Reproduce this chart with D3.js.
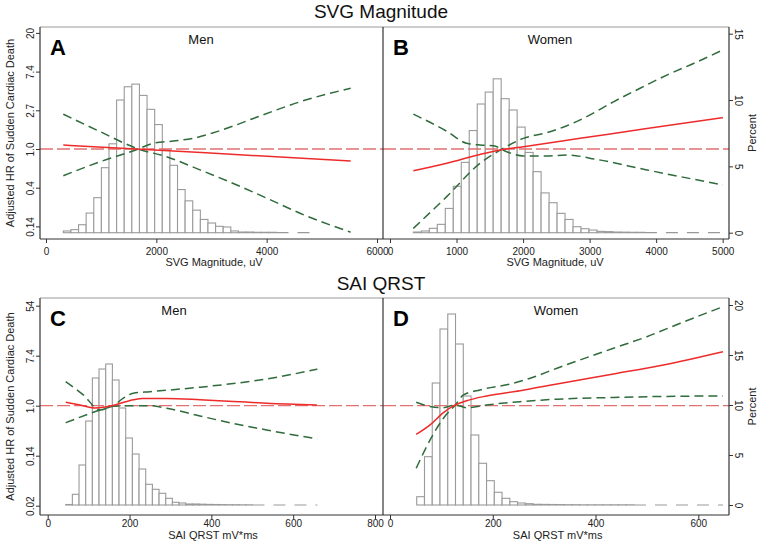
<!DOCTYPE html>
<html>
<head>
<meta charset="utf-8">
<script src="https://cdn.jsdelivr.net/npm/d3@7"></script>
<style>
  body { margin: 0; background: #fff; }
  text { font-family: "Liberation Sans", Arial, Helvetica, sans-serif; }
</style>
</head>
<body>
<div id="chart"></div>
<script>
// Data ----------------------------------------------------------------------------------------------------------------
// histogram bins: first bin start, bin width, percent per bin
const svgMenBinStart = 314, svgMenBinWidth = 138, svgMenTailEnd = 4850;
const svgMenPct = [0.13, 0.23, 0.6, 1.48, 2.64, 4.9, 6.7, 10.0, 11.0, 11.2, 10.35, 9.3, 8.15, 6.26, 5.08, 3.25, 2.4,
  1.7, 1.0, 0.73, 0.48, 0.43, 0.13, 0.05, 0.05, 0.03, 0.03, 0.03];
const svgWomenBinStart = 351, svgWomenBinWidth = 120, svgWomenTailEnd = 5003;
const svgWomenPct = [0.05, 0.13, 0.33, 0.63, 1.83, 3.5, 5.3, 7.7, 9.7, 10.6, 11.6, 10.1, 9.25, 7.96, 6.05, 4.6, 3.0,
  2.26, 1.46, 1.0, 0.45, 0.3, 0.2, 0.1, 0.08, 0.05, 0.04, 0.03, 0.03];
const saiMenBinStart = 44, saiMenBinWidth = 16.3, saiMenTailEnd = 659;
const saiMenPct = [0.05, 1.07, 4.0, 8.4, 12.7, 13.6, 14.1, 12.5, 9.7, 6.7, 5.1, 3.6, 2.07, 1.57, 1.17, 0.67, 0.27, 0.2,
  0.1, 0.1, 0.08, 0.06, 0.05, 0.04, 0.03, 0.03, 0.02, 0.02];
const saiWomenBinStart = 52, saiWomenBinWidth = 15.1, saiWomenTailEnd = 648;
const saiWomenPct = [0.83, 4.83, 12.2, 17.6, 19.1, 16.1, 10.9, 7.0, 4.17, 2.43, 1.27, 0.67, 0.33, 0.2, 0.13, 0.07,
  0.06, 0.05, 0.04, 0.03, 0.03, 0.02, 0.02, 0.02, 0.02, 0.02, 0.02, 0.02];

// spline curves, values are ln(HR)
const svgMenHrX = [314, 2900, 5523];
const svgMenHr = [0.103, -0.10, -0.31];
const svgMenUpX = [314, 979, 1673, 1946, 2308, 2670, 3033, 3395, 3758, 4181, 4604, 5523];
const svgMenUp = [-0.69, -0.33, 0, 0.147, 0.207, 0.276, 0.42, 0.594, 0.79, 1.01, 1.22, 1.57];
const svgMenLoX = [314, 979, 1673, 2187, 2791, 3395, 4000, 4604, 5523];
const svgMenLo = [0.90, 0.45, 0, -0.2, -0.54, -0.89, -1.27, -1.66, -2.15];

const svgWomenHrX = [351, 852, 1353, 1654, 2005, 2857, 3860, 5003];
const svgWomenHr = [-0.56, -0.37, -0.14, -0.026, 0.06, 0.275, 0.53, 0.81];
const svgWomenUpX = [351, 852, 1353, 1654, 2005, 2356, 2657, 2957, 3358, 3759, 4160, 4561, 5003];
const svgWomenUp = [-2.05, -1.23, -0.37, -0.03, 0.275, 0.42, 0.6, 0.835, 1.22, 1.57, 1.91, 2.21, 2.56];
const svgWomenLoX = [351, 852, 1153, 1353, 1554, 1754, 2005, 2356, 2657, 3108, 3860, 5003];
const svgWomenLo = [0.90, 0.46, 0.147, 0.103, 0.086, -0.07, -0.18, -0.18, -0.155, -0.27, -0.54, -0.93];

const saiMenHrX = [44, 79, 115, 140, 170, 200, 230, 290, 372, 454, 535, 658];
const saiMenHr = [0.136, 0.03, -0.09, -0.05, 0.06, 0.2, 0.29, 0.29, 0.24, 0.17, 0.1, 0.03];
const saiMenUpX = [44, 128, 160, 185, 209, 250, 372, 535, 659];
const saiMenUp = [-0.68, -0.17, 0, 0.3, 0.5, 0.56, 0.74, 1.07, 1.46];
const saiMenLoX = [44, 87, 128, 160, 209, 250, 291, 372, 454, 535, 659];
const saiMenLo = [0.96, 0.43, -0.17, -0.02, 0.0, 0.0, -0.1, -0.41, -0.71, -0.97, -1.33];

const saiWomenHrX = [51, 78, 104, 127, 149, 188, 253, 325, 435, 532, 648];
const saiWomenHr = [-1.15, -0.77, -0.28, 0.03, 0.2, 0.39, 0.6, 0.87, 1.27, 1.63, 2.16];
const saiWomenUpX = [51, 78, 104, 127, 143, 175, 240, 273, 325, 370, 435, 500, 565, 648];
const saiWomenUp = [-2.5, -1.37, -0.5, 0.03, 0.43, 0.63, 0.9, 1.1, 1.5, 1.83, 2.3, 2.76, 3.3, 3.96];
const saiWomenLoX = [51, 78, 104, 127, 149, 188, 253, 325, 435, 532, 648];
const saiWomenLo = [0.136, -0.03, -0.08, 0.03, -0.08, 0.03, 0.16, 0.26, 0.33, 0.37, 0.39];

// tick labels
const svgHrTicks = [-2, -1, 0, 1, 2, 3];
const svgHrLabels = ["0.14", "0.4", "1.0", "2.7", "7.4", "20"];
const saiHrTicks = [-4, -2, 0, 2, 4];
const saiHrLabels = ["0.02", "0.14", "1.0", "7.4", "54"];
const svgPctTicks = [0, 5, 10, 15];
const saiPctTicks = [0, 5, 10, 15, 20];

// Canvas ---------------------------------------------------------------------------------------------------------------
const canvasWidth = 762;
const canvasHeight = 545;
const tickFontSize = 10;
const labelFontSize = 11;

const svg = d3.select("#chart")
  .append("svg")
  .attr("width", canvasWidth)
  .attr("height", canvasHeight);

const rows = [
  {
    title: "SVG Magnitude", titleY: 18, top: 27, bottom: 239, tickBase: 255, labelBase: 266,
    hrScale: d3.scaleLinear().domain([-2, 3]).range([226.4, 32.9]), hrTicks: svgHrTicks, hrLabels: svgHrLabels,
    pctScale: d3.scaleLinear().domain([0, 15]).range([232.7, 33.7]), pctTicks: svgPctTicks
  },
  {
    title: "SAI QRST", titleY: 290, top: 298, bottom: 515, tickBase: 526.5, labelBase: 538.5,
    hrScale: d3.scaleLinear().domain([-4, 4]).range([505.7, 305.7]), hrTicks: saiHrTicks, hrLabels: saiHrLabels,
    pctScale: d3.scaleLinear().domain([0, 20]).range([505, 305]), pctTicks: saiPctTicks
  }
];

const zip = (xs, ys) => xs.map((x, i) => [x, ys[i]]);

const panels = [
  {
    row: 0, letter: "A", sex: "Men", sexX: 201, x0: 40, x1: 383, xLabel: "SVG Magnitude, uV", xLabelX: 214,
    xScale: d3.scaleLinear().domain([0, 6000]).range([46, 377]), xTicks: [0, 2000, 4000, 6000],
    binStart: svgMenBinStart, binWidth: svgMenBinWidth, pct: svgMenPct, tailEnd: svgMenTailEnd,
    hr: zip(svgMenHrX, svgMenHr), up: zip(svgMenUpX, svgMenUp), lo: zip(svgMenLoX, svgMenLo)
  },
  {
    row: 0, letter: "B", sex: "Women", sexX: 550, x0: 383, x1: 729, xLabel: "SVG Magnitude, uV", xLabelX: 555,
    xScale: d3.scaleLinear().domain([0, 5000]).range([390, 722.7]), xTicks: [0, 1000, 2000, 3000, 4000, 5000],
    binStart: svgWomenBinStart, binWidth: svgWomenBinWidth, pct: svgWomenPct, tailEnd: svgWomenTailEnd,
    hr: zip(svgWomenHrX, svgWomenHr), up: zip(svgWomenUpX, svgWomenUp), lo: zip(svgWomenLoX, svgWomenLo)
  },
  {
    row: 1, letter: "C", sex: "Men", sexX: 174, x0: 40, x1: 383, xLabel: "SAI QRST mV*ms", xLabelX: 213,
    xScale: d3.scaleLinear().domain([0, 800]).range([47.7, 375]), xTicks: [0, 200, 400, 600, 800],
    binStart: saiMenBinStart, binWidth: saiMenBinWidth, pct: saiMenPct, tailEnd: saiMenTailEnd,
    hr: zip(saiMenHrX, saiMenHr), up: zip(saiMenUpX, saiMenUp), lo: zip(saiMenLoX, saiMenLo)
  },
  {
    row: 1, letter: "D", sex: "Women", sexX: 556, x0: 383, x1: 729, xLabel: "SAI QRST mV*ms", xLabelX: 557.7,
    xScale: d3.scaleLinear().domain([0, 600]).range([390, 698.3]), xTicks: [0, 200, 400, 600],
    binStart: saiWomenBinStart, binWidth: saiWomenBinWidth, pct: saiWomenPct, tailEnd: saiWomenTailEnd,
    hr: zip(saiWomenHrX, saiWomenHr), up: zip(saiWomenUpX, saiWomenUp), lo: zip(saiWomenLoX, saiWomenLo)
  }
];

// Row frames, titles, shared axes -------------------------------------------------------------------------------------
rows.forEach(function(r) {
  svg.append("text")
    .text(r.title)
    .attr("x", 381)
    .attr("y", r.titleY)
    .style("text-anchor", "middle")
    .style("font-size", 19)
    .style("fill", "#111");

  svg.append("line")
    .attr("x1", 40).attr("x2", 729).attr("y1", r.top).attr("y2", r.top)
    .style("stroke", "#999").style("stroke-width", 1.2);

  // left HR axis
  const yAxis = svg.append("g")
    .attr("transform", "translate(40, 0)")
    .call(d3.axisLeft(r.hrScale).tickValues(r.hrTicks).tickFormat((d, i) => r.hrLabels[i]).tickSize(4));
  yAxis.select(".domain").remove();
  yAxis.selectAll("line").style("stroke", "#333");
  yAxis.selectAll("text")
    .attr("x", 0).attr("dy", 0)
    .attr("transform", "translate(-6, 0) rotate(-90)")
    .style("text-anchor", "middle")
    .style("font-size", tickFontSize)
    .style("font-family", "'Liberation Sans', Arial, sans-serif")
    .style("fill", "#222");

  // right percent axis
  const pAxis = svg.append("g")
    .attr("transform", "translate(729, 0)")
    .call(d3.axisRight(r.pctScale).tickValues(r.pctTicks).tickSize(4));
  pAxis.select(".domain").remove();
  pAxis.selectAll("line").style("stroke", "#333");
  pAxis.selectAll("text")
    .attr("x", 0).attr("dy", 0)
    .attr("transform", "translate(6, 0) rotate(90)")
    .style("text-anchor", "middle")
    .style("font-size", tickFontSize)
    .style("font-family", "'Liberation Sans', Arial, sans-serif")
    .style("fill", "#222");

  const midY = (r.top + r.bottom) / 2;
  svg.append("text")
    .text("Adjusted HR of Sudden Cardiac Death")
    .attr("transform", "translate(14," + midY + ") rotate(-90)")
    .style("text-anchor", "middle")
    .style("font-size", labelFontSize)
    .style("fill", "#222");
  svg.append("text")
    .text("Percent")
    .attr("transform", "translate(756," + midY + ") rotate(-90)")
    .style("text-anchor", "middle")
    .style("font-size", labelFontSize)
    .style("fill", "#222");
});

// Panels --------------------------------------------------------------------------------------------------------------
panels.forEach(function(p) {
  const r = rows[p.row];
  const g = svg.append("g");
  const x = p.xScale;
  const y = r.hrScale;
  const pc = r.pctScale;

  // histogram
  g.selectAll("rect.bar")
    .data(p.pct)
    .join("rect")
    .attr("class", "bar")
    .attr("x", (d, i) => x(p.binStart + i * p.binWidth))
    .attr("width", (d, i) => x(p.binStart + (i + 1) * p.binWidth) - x(p.binStart + i * p.binWidth))
    .attr("y", d => pc(d))
    .attr("height", d => pc(0) - pc(d))
    .style("fill", "#fff")
    .style("stroke", "#9a9a9a")
    .style("stroke-width", 1.1);

  g.append("line")
    .attr("x1", x(p.binStart + p.pct.length * p.binWidth))
    .attr("x2", x(p.tailEnd))
    .attr("y1", pc(0)).attr("y2", pc(0))
    .style("stroke", "#999")
    .style("stroke-width", 1.2)
    .style("stroke-dasharray", "12,9");

  // reference HR = 1
  g.append("line")
    .attr("x1", p.x0).attr("x2", p.x1)
    .attr("y1", y(0)).attr("y2", y(0))
    .style("stroke", "#e27272")
    .style("stroke-width", 1.3)
    .style("stroke-dasharray", "13,4");

  const line = d3.line()
    .x(d => x(d[0]))
    .y(d => y(d[1]))
    .curve(d3.curveMonotoneX);

  [p.up, p.lo].forEach(function(ci) {
    g.append("path")
      .attr("d", line(ci))
      .style("fill", "none")
      .style("stroke", "#2f6b3b")
      .style("stroke-width", 1.5)
      .style("stroke-dasharray", "9,5");
  });

  g.append("path")
    .attr("d", line(p.hr))
    .style("fill", "none")
    .style("stroke", "#ee2b2b")
    .style("stroke-width", 1.5);

  // x axis
  const xAxis = svg.append("g")
    .attr("transform", "translate(0," + r.bottom + ")")
    .call(d3.axisBottom(x).tickValues(p.xTicks).tickFormat(d3.format("d")).tickSize(4));
  xAxis.select(".domain").remove();
  xAxis.selectAll("line").style("stroke", "#333");
  xAxis.selectAll("text")
    .attr("y", r.tickBase - r.bottom).attr("dy", 0)
    .style("font-size", tickFontSize)
    .style("font-family", "'Liberation Sans', Arial, sans-serif")
    .style("fill", "#222");

  svg.append("line")
    .attr("x1", p.x0).attr("x2", p.x1).attr("y1", r.bottom).attr("y2", r.bottom)
    .style("stroke", "#333").style("stroke-width", 1.2);

  svg.append("text")
    .text(p.xLabel)
    .attr("x", p.xLabelX)
    .attr("y", r.labelBase)
    .style("text-anchor", "middle")
    .style("font-size", labelFontSize)
    .style("fill", "#222");

  // panel labels
  svg.append("text")
    .text(p.letter)
    .attr("x", p.x0 + 10)
    .attr("y", r.top + 28)
    .style("font-size", 22)
    .style("font-weight", "bold")
    .style("fill", "#000");
  svg.append("text")
    .text(p.sex)
    .attr("x", p.sexX)
    .attr("y", r.top + 17)
    .style("text-anchor", "middle")
    .style("font-size", 13)
    .style("fill", "#111");
});

// vertical frame lines
rows.forEach(function(r) {
  [40, 383, 729].forEach(function(xv) {
    svg.append("line")
      .attr("x1", xv).attr("x2", xv).attr("y1", r.top).attr("y2", r.bottom)
      .style("stroke", "#333").style("stroke-width", 1.2);
  });
});
</script>
</body>
</html>
